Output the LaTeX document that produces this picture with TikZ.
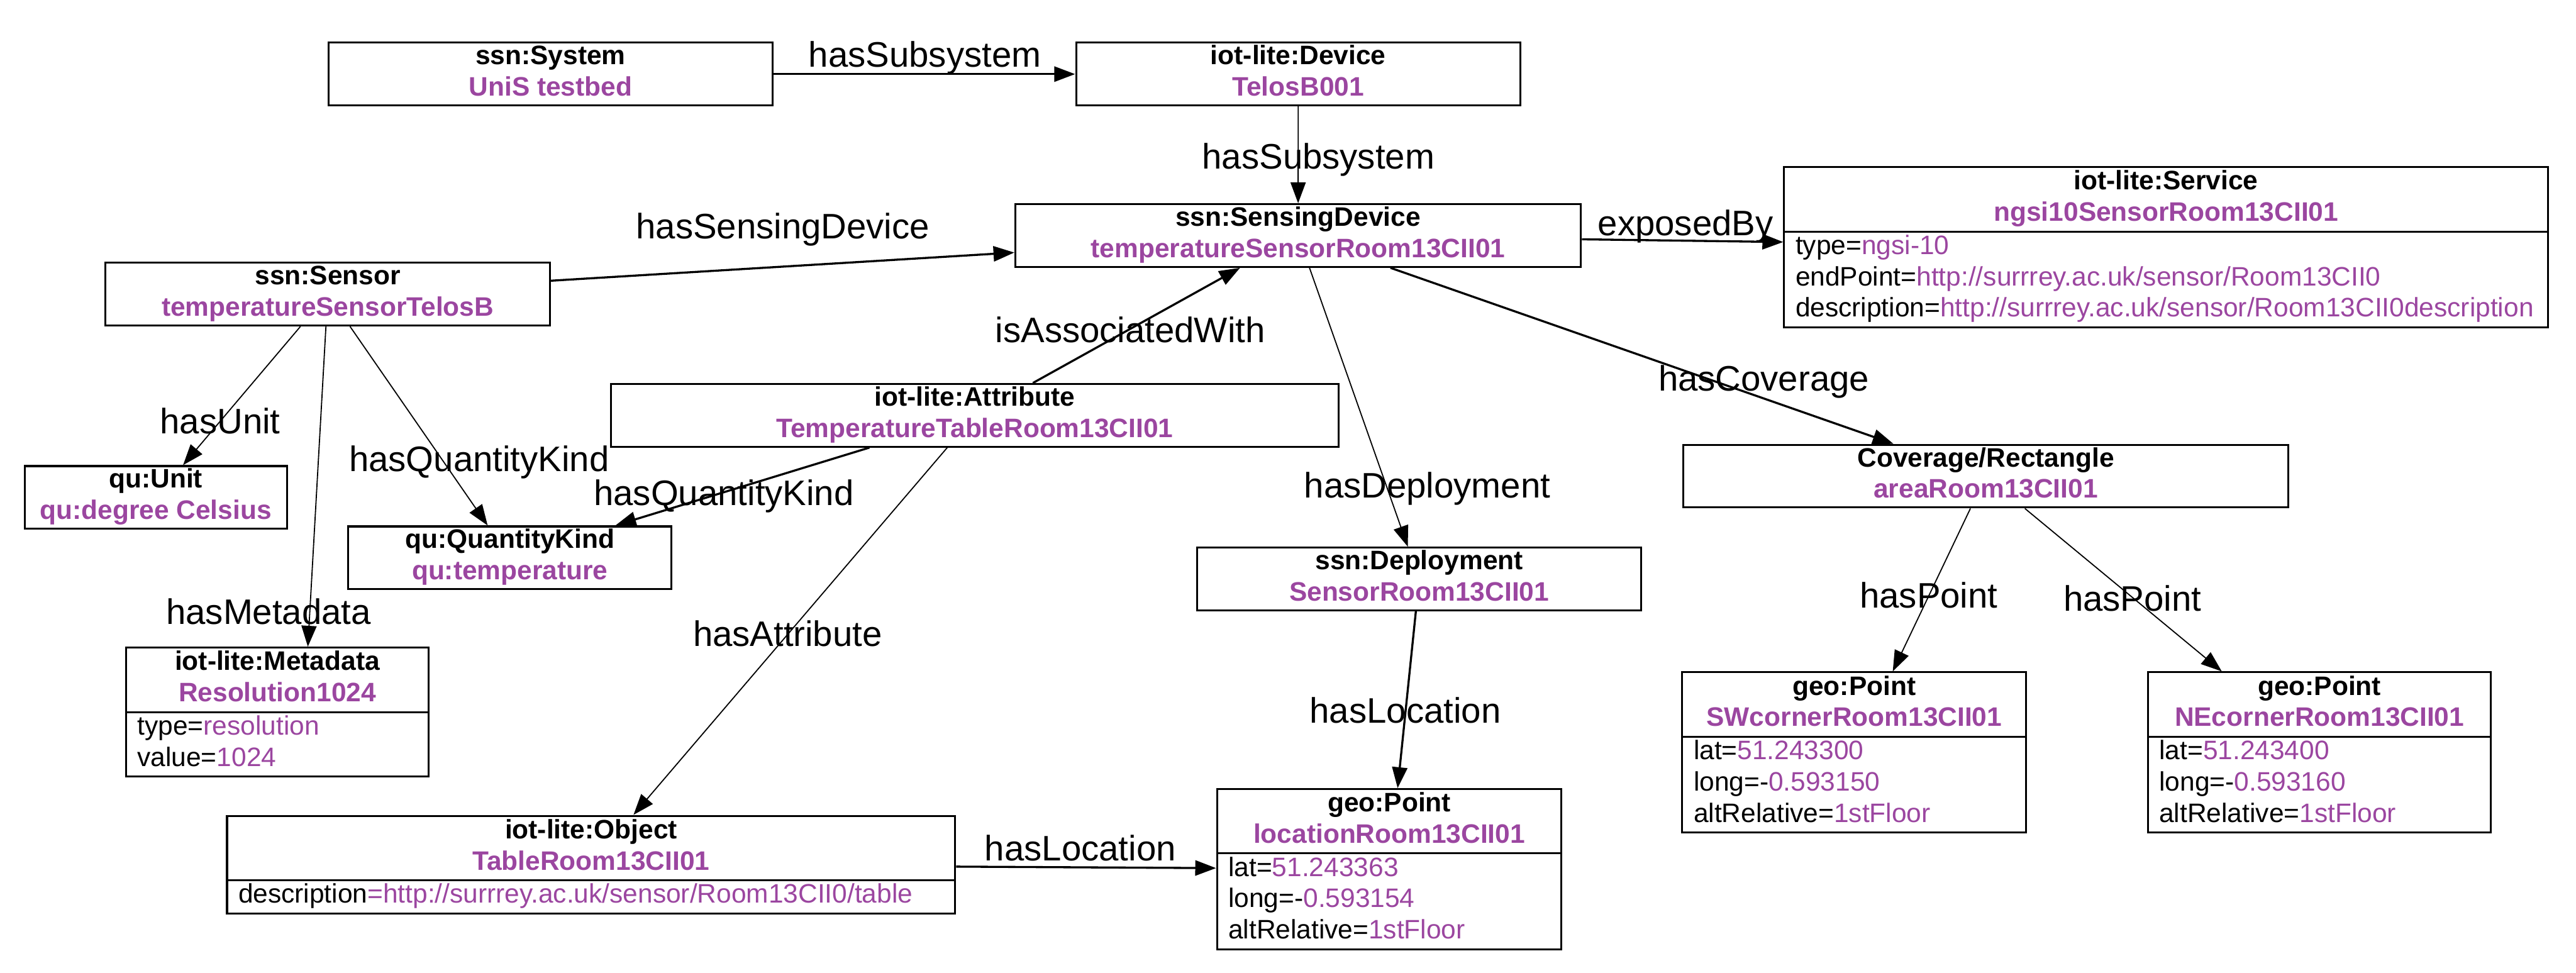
\documentclass[tikz,border=0pt]{standalone}
\usepackage{fontspec}
\setmainfont{Liberation Sans}
\usetikzlibrary{arrows.meta,shapes.multipart}

\definecolor{instcol}{RGB}{155,70,160}
\newcommand{\ival}[1]{\textcolor{instcol}{#1}}
\newcommand{\boxfont}{\fontsize{14.1}{16.5}\selectfont}
\newcommand{\labfont}{\fontsize{18.7}{22}\selectfont}
\newcommand{\clstext}[2]{\textbf{#1}\strut\\\textbf{\ival{#2}}\strut}
\newcommand{\clshead}[2]{\centering\textbf{#1}\strut\par\textbf{\ival{#2}}\strut\par}
\newcommand{\arow}[2]{\mbox{#1\ival{#2}}\strut}

\tikzset{
  cls/.style={draw,line width=1pt,inner xsep=6pt,inner ysep=0pt,align=center,font=\boxfont,minimum height=1.164cm},
  clsattr/.style={draw,line width=1pt,inner xsep=6pt,inner ysep=0pt,align=left,font=\boxfont,
    rectangle split,rectangle split parts=2},
  rel/.style={-{Triangle[length=11pt,width=8pt]},line width=0.6pt},
  relb/.style={rel,line width=1.1pt},
  lab/.style={font=\labfont,inner sep=0pt,anchor=base},
}

\begin{document}
\begin{tikzpicture}[x=0.3048mm,y=-0.3048mm]
\useasboundingbox (0,0) rectangle (1568,592);

% classes
\node[cls,minimum width=8.239cm] (system) at (335.15,45.1) {\clstext{ssn:System}{UniS testbed}};
\node[cls,minimum width=8.242cm] (device) at (790.2,45.1) {\clstext{iot-lite:Device}{TelosB001}};
\node[cls,minimum width=10.494cm] (sd) at (790.15,143.35) {\clstext{ssn:SensingDevice}{temperatureSensorRoom13CII01}};
\node[cls,minimum width=8.242cm] (sensor) at (199.5,179.05) {\clstext{ssn:Sensor}{temperatureSensorTelosB}};
\node[cls,minimum width=13.493cm] (attr) at (593.35,252.75) {\clstext{iot-lite:Attribute}{TemperatureTableRoom13CII01}};
\node[cls,minimum width=4.865cm] (unit) at (94.8,302.75) {\clstext{qu:Unit}{qu:degree Celsius}};
\node[cls,minimum width=5.998cm] (qk) at (310.4,339.5) {\clstext{qu:QuantityKind}{qu:temperature}};
\node[cls,minimum width=8.239cm] (deploy) at (863.85,352.4) {\clstext{ssn:Deployment}{SensorRoom13CII01}};
\node[cls,minimum width=11.232cm] (cover) at (1208.75,289.8) {\clstext{Coverage/Rectangle}{areaRoom13CII01}};

% classes with attributes
\node[clsattr,text width=13.75cm] (service) at (1318.5,150.4) {\clshead{iot-lite:Service}{ngsi10SensorRoom13CII01}
  \nodepart{two}\arow{type=}{ngsi-10}\\
  \arow{endPoint=}{http://surrrey.ac.uk/sensor/Room13CII0}\\
  \arow{description=}{http://surrrey.ac.uk/sensor/Room13CII0description}};
\node[clsattr,text width=5.195cm] (meta) at (168.85,433.35) {\clshead{iot-lite:Metadata}{Resolution1024}
  \nodepart{two}\arow{type=}{resolution}\\
  \arow{value=}{1024}};
\node[clsattr,text width=13.087cm] (object) at (359.8,526.2) {\clshead{iot-lite:Object}{TableRoom13CII01}
  \nodepart{two}\arow{description}{=http://surrrey.ac.uk/sensor/Room13CII0/table}};
\node[clsattr,text width=5.97cm] (loc) at (845.65,528.95) {\clshead{geo:Point}{locationRoom13CII01}
  \nodepart{two}\arow{lat=}{51.243363}\\
  \arow{long=-}{0.593154}\\
  \arow{altRelative=}{1stFloor}};
\node[clsattr,text width=5.957cm] (sw) at (1128.65,457.9) {\clshead{geo:Point}{SWcornerRoom13CII01}
  \nodepart{two}\arow{lat=}{51.243300}\\
  \arow{long=-}{0.593150}\\
  \arow{altRelative=}{1stFloor}};
\node[clsattr,text width=5.945cm] (ne) at (1411.85,457.9) {\clshead{geo:Point}{NEcornerRoom13CII01}
  \nodepart{two}\arow{lat=}{51.243400}\\
  \arow{long=-}{0.593160}\\
  \arow{altRelative=}{1stFloor}};

% relations
\draw[relb] (system) -- (device);
\draw[rel] (device) -- (sd);
\draw[relb] (sensor) -- (sd);
\draw[relb] (sd) -- (service);
\draw[relb] (attr) -- (sd);
\draw[rel] (sensor) -- (unit);
\draw[rel] (sensor) -- (qk);
\draw[relb] (attr) -- (qk);
\draw[rel] (sensor) -- ([xshift=5.65mm]meta.north);
\draw[rel] (attr) -- (object);
\draw[relb] (object) -- (loc);
\draw[rel] (sd) -- (deploy);
\draw[relb] (deploy) -- (loc);
\draw[relb] (sd) -- (cover);
\draw[rel] (cover) -- (sw);
\draw[rel] (cover) -- (ne);

% labels
\node[lab] (lsub1) at (563,40.7) {hasSubsystem};
\node[lab] (lsub2) at (802.5,102.8) {hasSubsystem};
\node[lab] (lsens) at (476.5,145.4) {hasSensingDevice};
\node[lab] (lexp) at (1026,143.3) {exposedBy};
\node[lab] (lassoc) at (688,208.3) {isAssociatedWith};
\node[lab] (lunit) at (134,264) {hasUnit};
\node[lab] (lqk1) at (291.6,287) {hasQuantityKind};
\node[lab] (lqk2) at (440.6,307.4) {hasQuantityKind};
\node[lab] (lmeta) at (163.5,380) {hasMetadata};
\node[lab] (lattr) at (479.4,393.4) {hasAttribute};
\node[lab] (ldep) at (868.8,302.8) {hasDeployment};
\node[lab] (lloc1) at (855.4,440) {hasLocation};
\node[lab] (lloc2) at (657.6,524) {hasLocation};
\node[lab] (lcov) at (1073.6,237.9) {hasCoverage};
\node[lab] (lpt1) at (1174,370) {hasPoint};
\node[lab] (lpt2) at (1298,372) {hasPoint};
\end{tikzpicture}
\end{document}
